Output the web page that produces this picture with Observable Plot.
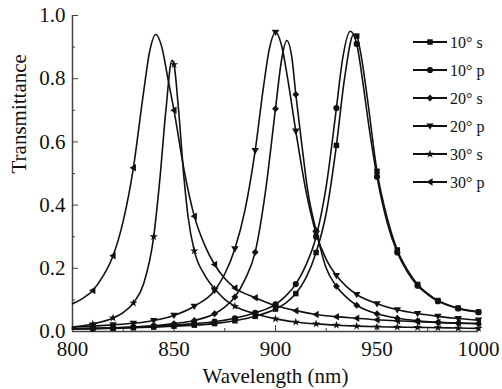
<!DOCTYPE html>
<html><head><meta charset="utf-8">
<script src="https://cdn.jsdelivr.net/npm/d3@7"></script>
<script src="https://cdn.jsdelivr.net/npm/@observablehq/plot@0.6"></script>
<style>
body{margin:0;background:#fff;}
#wrap{position:relative;width:502px;height:389px;}
#legend{position:absolute;left:0;top:0;pointer-events:none;}
</style></head><body><div id="wrap"></div>
<script>
// Series names (legend)
const seriesNames = ["10° s", "10° p", "20° s", "20° p", "30° s", "30° p"];

// [wavelength (nm), transmittance]
const t10s = [[800,0.008],[810,0.009],[820,0.010],[830,0.012],[840,0.014],[850,0.017],[860,0.020],[870,0.025],[880,0.034],[890,0.048],[900,0.071],[905,0.090],[910,0.120],[915,0.170],[920,0.250],[925,0.375],[930,0.589],[934,0.800],[938.5,0.940],[940,0.935],[942,0.880],[945,0.750],[950,0.507],[955,0.360],[960,0.258],[965,0.195],[970,0.149],[975,0.120],[980,0.098],[990,0.074],[1000,0.062]];
const t10p = [[800,0.009],[810,0.010],[820,0.012],[830,0.014],[840,0.017],[850,0.020],[860,0.025],[870,0.031],[880,0.042],[890,0.059],[900,0.086],[905,0.112],[910,0.150],[915,0.210],[920,0.300],[925,0.460],[930,0.707],[933,0.860],[936.8,0.950],[940,0.910],[943,0.790],[946,0.650],[950,0.490],[955,0.345],[960,0.250],[965,0.188],[970,0.145],[975,0.117],[980,0.096],[990,0.073],[1000,0.061]];
const t20s = [[800,0.008],[810,0.009],[820,0.011],[830,0.014],[840,0.018],[850,0.025],[860,0.035],[870,0.056],[875,0.077],[880,0.109],[885,0.165],[890,0.251],[895,0.440],[900,0.705],[903,0.860],[905.5,0.921],[908,0.870],[910,0.750],[913,0.590],[916,0.440],[920,0.320],[925,0.200],[930,0.143],[935,0.108],[940,0.083],[950,0.056],[960,0.042],[970,0.034],[980,0.029],[990,0.026],[1000,0.024]];
const t20p = [[800,0.014],[810,0.017],[820,0.021],[830,0.026],[840,0.035],[850,0.051],[860,0.080],[870,0.130],[875,0.182],[880,0.262],[885,0.385],[890,0.573],[894,0.770],[897,0.895],[900,0.947],[903,0.905],[906,0.800],[910,0.634],[915,0.445],[920,0.310],[925,0.228],[930,0.177],[935,0.142],[940,0.117],[950,0.088],[960,0.069],[970,0.057],[980,0.048],[990,0.041],[1000,0.036]];
const t30s = [[800,0.014],[810,0.024],[820,0.043],[825,0.060],[830,0.090],[835,0.150],[840,0.300],[843,0.480],[846,0.700],[849,0.858],[850,0.845],[852,0.720],[855,0.480],[857,0.360],[860,0.255],[865,0.180],[870,0.135],[875,0.102],[880,0.080],[890,0.056],[900,0.040],[910,0.030],[920,0.024],[930,0.020],[940,0.017],[950,0.015],[960,0.014],[970,0.013],[980,0.012],[990,0.011],[1000,0.010]];
const t30p = [[800,0.088],[805,0.105],[810,0.130],[815,0.175],[820,0.240],[825,0.350],[830,0.518],[835,0.757],[838,0.886],[841,0.940],[844,0.900],[847,0.800],[850,0.700],[855,0.510],[860,0.365],[865,0.275],[870,0.212],[875,0.168],[880,0.138],[890,0.107],[900,0.082],[910,0.066],[920,0.054],[930,0.047],[940,0.042],[950,0.037],[960,0.034],[970,0.031],[980,0.029],[990,0.027],[1000,0.026]];

// Ticks
const xTicks = [800, 850, 900, 950, 1000];
const xMinorTicks = [825, 875, 925, 975];
const yTicks = [0, 0.2, 0.4, 0.6, 0.8, 1.0];
const yMinorTicks = [0.1, 0.3, 0.5, 0.7, 0.9];

const FONT = "Liberation Serif";
const INK = "#111";
const AXIS = "#444";

const triDown = {draw(ctx, size) { const r = Math.sqrt(size) * 0.62; ctx.moveTo(-r * 1.1, -r * 0.75); ctx.lineTo(r * 1.1, -r * 0.75); ctx.lineTo(0, r * 1.1); ctx.closePath(); }};
const triLeft = {draw(ctx, size) { const r = Math.sqrt(size) * 0.62; ctx.moveTo(-r * 1.1, 0); ctx.lineTo(r * 0.75, -r * 1.1); ctx.lineTo(r * 0.75, r * 1.1); ctx.closePath(); }};
const symbols = [d3.symbolSquare, d3.symbolCircle, d3.symbolDiamond2, triDown, d3.symbolStar, triLeft];
const seriesData = [t10s, t10p, t20s, t20p, t30s, t30p];
const isMarker = d => d[0] >= 810 && d[0] % 10 === 0;

const marks = [];
seriesData.forEach((data, i) => {
  marks.push(Plot.line(data, {x: d => d[0], y: d => d[1], stroke: INK, strokeWidth: 1.6, curve: "monotone-x"}));
});
seriesData.forEach((data, i) => {
  marks.push(Plot.dot(data.filter(isMarker), {x: d => d[0], y: d => d[1], symbol: symbols[i], r: i === 4 ? 2.6 : 3.1, fill: INK, stroke: "none"}));
});

const chart = Plot.plot({
  width: 502, height: 389,
  marginLeft: 72, marginRight: 24, marginTop: 15, marginBottom: 58,
  x: {domain: [800, 1000]},
  y: {domain: [0, 1]},
  style: {fontFamily: FONT, fontSize: "21px", color: INK, background: "#fff"},
  marks: [
    Plot.axisX({ticks: xTicks, tickSize: 0, tickPadding: 10, tickFormat: d => String(d), label: null, fontFamily: FONT}),
    Plot.axisX({ticks: xTicks, tickSize: -6, tickFormat: () => "", label: null, stroke: AXIS}),
    Plot.axisX({ticks: xMinorTicks, tickSize: -3, tickFormat: () => "", label: null, stroke: AXIS}),
    Plot.axisY({ticks: yTicks, tickSize: 0, tickPadding: 7, tickFormat: d3.format(".1f"), label: null, fontFamily: FONT}),
    Plot.axisY({ticks: yTicks, tickSize: -6, tickFormat: () => "", label: null, stroke: AXIS}),
    Plot.axisY({ticks: yMinorTicks, tickSize: -3, tickFormat: () => "", label: null, stroke: AXIS}),
    Plot.ruleX([800], {stroke: AXIS, strokeWidth: 1.5}),
    Plot.ruleY([0], {stroke: AXIS, strokeWidth: 1.5}),
    ...marks,
    Plot.text(["Transmittance"], {text: d => d, frameAnchor: "left", dx: -53, rotate: -90, fontSize: 21, fontFamily: FONT, fill: INK}),
    Plot.text(["Wavelength (nm)"], {text: d => d, frameAnchor: "bottom", lineAnchor: "middle", dy: 45, fontSize: 21, fontFamily: FONT, fill: INK})
  ]
});
const wrap = document.getElementById("wrap");
wrap.appendChild(chart);

// Legend overlay
const leg = d3.select(wrap).append("svg").attr("id", "legend").attr("width", 502).attr("height", 389);
seriesNames.forEach((name, i) => {
  const y = 42 + 28 * i;
  leg.append("line").attr("x1", 413).attr("x2", 447).attr("y1", y).attr("y2", y).attr("stroke", INK).attr("stroke-width", 2);
  leg.append("path").attr("d", d3.symbol(symbols[i], i === 4 ? 22 : 30)()).attr("transform", `translate(430,${y})`).attr("fill", INK);
  leg.append("text").attr("x", 450).attr("y", y).attr("dy", "0.35em")
    .attr("font-family", FONT).attr("font-size", 16).attr("fill", INK).text(name);
});
</script>
</body></html>
